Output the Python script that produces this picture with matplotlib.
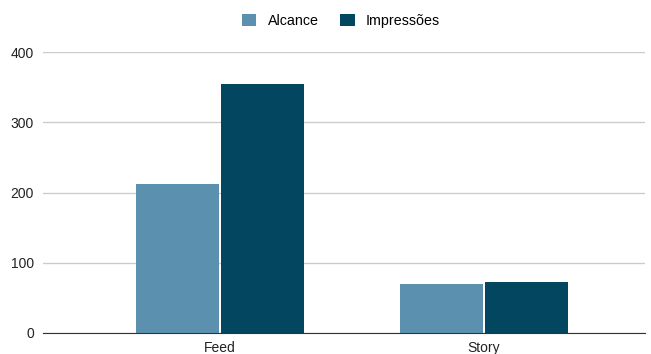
import numpy as np
import matplotlib.pyplot as plt

# dados
categorias = ['Feed', 'Story']
alcance = [212, 70]
impressoes = [354, 72]
series = ['Alcance', 'Impressões']
cores = ['#5b91ae', '#02465f']

plt.rcParams['font.family'] = ['Liberation Sans', 'DejaVu Sans']

fig = plt.figure(figsize=(6.51, 3.54), dpi=100)
ax = fig.add_axes([43 / 651, 21 / 354, 602 / 651, 281 / 354])

x = np.arange(len(categorias))
largura = 0.314
ax.bar(x - largura / 2 - 0.004, alcance, largura, color=cores[0], label=series[0], zorder=3)
ax.bar(x + largura / 2 + 0.004, impressoes, largura, color=cores[1], label=series[1], zorder=3)

ax.set_xlim(-0.67, 1.61)
ax.set_ylim(0, 400)
ax.set_yticks([0, 100, 200, 300, 400])
ax.set_xticks(x)
ax.set_xticklabels(categorias)
ax.grid(axis='y', color='#cccccc', linewidth=1, zorder=0)
for lado in ['left', 'right', 'top']:
    ax.spines[lado].set_visible(False)
ax.spines['bottom'].set_color('#333333')
ax.spines['bottom'].set_zorder(4)
ax.tick_params(axis='both', length=0, labelsize=10, labelcolor='#222222')
ax.tick_params(axis='y', pad=6.5)
ax.tick_params(axis='x', pad=6)

fig.legend(loc='upper center', bbox_to_anchor=(0.524, 0.998), ncol=2, frameon=False,
           fontsize=10.3, handlelength=1.0, handleheight=1.0, columnspacing=1.5,
           handletextpad=0.8)

plt.savefig('out.png', dpi=100)
